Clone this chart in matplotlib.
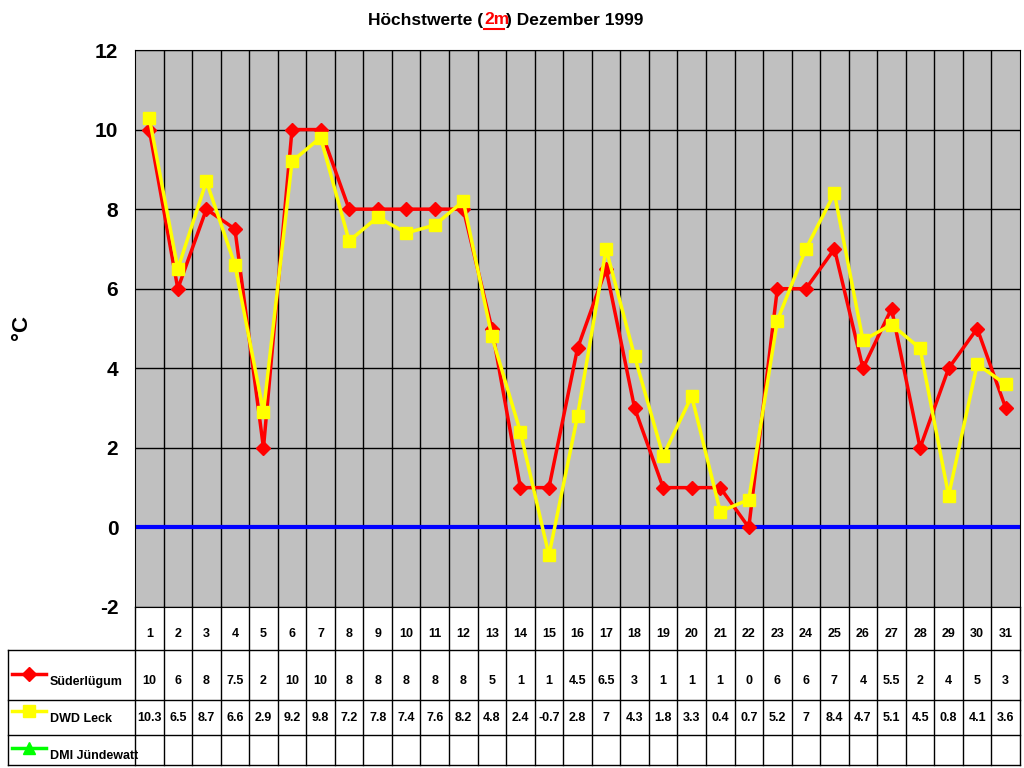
import matplotlib
matplotlib.use("Agg")
import matplotlib.pyplot as plt

plt.rcParams['font.family'] = ['Liberation Sans', 'DejaVu Sans']

days = list(range(1, 32))
sued = [10, 6, 8, 7.5, 2, 10, 10, 8, 8, 8, 8, 8, 5, 1, 1, 4.5, 6.5, 3, 1, 1, 1, 0, 6, 6, 7, 4, 5.5, 2, 4, 5, 3]
dwd = [10.3, 6.5, 8.7, 6.6, 2.9, 9.2, 9.8, 7.2, 7.8, 7.4, 7.6, 8.2, 4.8, 2.4, -0.7, 2.8, 7, 4.3, 1.8, 3.3, 0.4, 0.7, 5.2, 7, 8.4, 4.7, 5.1, 4.5, 0.8, 4.1, 3.6]
series_names = ["Süderlügum", "DWD Leck", "DMI Jündewatt"]
yticks = [-2, 0, 2, 4, 6, 8, 10, 12]

W, H = 1024, 768
fig = plt.figure(figsize=(W/100, H/100), dpi=100)
fig.patch.set_facecolor('white')
L, R, T, B = 135, 1020, 50, 607
ax = fig.add_axes([L/W, 1-B/H, (R-L)/W, (B-T)/H])
ax.set_facecolor('#C0C0C0')
ax.set_xlim(0.5, 31.5)
ax.set_ylim(-2, 12)
for x in range(1, 31):
    ax.axvline(x + 0.5, color='black', lw=1, zorder=1)
for y in yticks:
    ax.axhline(y, color='black', lw=1, zorder=1)
ax.axhline(0, color='#0000FF', lw=3, zorder=2)
ax.plot(days, sued, color='#FF0000', lw=2.5, marker='D', ms=7, zorder=3)
ax.plot(days, dwd, color='#FFFF00', lw=2.5, marker='s', ms=9, zorder=4)
ax.set_xticks([])
ax.set_yticks(yticks)
ax.set_yticklabels([str(v) for v in yticks], fontsize=15, fontweight='bold')
ax.tick_params(axis='y', length=0, pad=12)
for s in ax.spines.values():
    s.set_color('black')
fig.text(22/W, 1-328/H, '°C', rotation=90, ha='center', va='center', fontsize=16, fontweight='bold')

# table
tax = fig.add_axes([0, 0, 1, 1])
tax.set_xlim(0, W)
tax.set_ylim(H, 0)
tax.axis('off')
cw = (R - L) / 31
rows = [607, 650, 700, 735, 765]
for y in rows[1:]:
    tax.plot([8, R], [y, y], color='black', lw=1)
tax.plot([8, 8], [650, 765], color='black', lw=1)
tax.plot([L, L], [607, 765], color='black', lw=1)
tax.plot([R, R], [607, 765], color='black', lw=1)
for i in range(1, 31):
    x = L + i * cw
    tax.plot([x, x], [607, 765], color='black', lw=1)
for i, d in enumerate(days):
    xc = L + (i + 0.5) * cw
    tax.text(xc, 634, str(d), ha='center', va='center', fontsize=9, fontweight='bold')
    tax.text(xc, 681, f"{sued[i]:g}", ha='center', va='center', fontsize=9, fontweight='bold')
    tax.text(xc, 718, f"{dwd[i]:g}", ha='center', va='center', fontsize=9, fontweight='bold')
leg = [('#FF0000', 'D', 7, 674), ('#FFFF00', 's', 9, 711), ('#00FF00', '^', 9, 748)]
for (c, m, ms, y), name in zip(leg, series_names):
    tax.plot([12, 46], [y, y], color=c, lw=2.5)
    tax.plot([29], [y], color=c, marker=m, ms=ms)
    tax.text(50, y + 8, name, ha='left', va='center', fontsize=9, fontweight='bold')

# title
fig.text(483/W, 1-20/H, "Höchstwerte (", ha='right', va='center', fontsize=12.5, fontweight='bold')
fig.text(484/W, 1-20/H, "2m", ha='left', va='center', fontsize=12.5, fontweight='bold', color='#FF0000')
fig.text(506/W, 1-20/H, ") Dezember 1999", ha='left', va='center', fontsize=12.5, fontweight='bold')
tax.plot([484, 504], [29, 29], color='#FF0000', lw=1.5)

fig.savefig('out.png', dpi=100)
